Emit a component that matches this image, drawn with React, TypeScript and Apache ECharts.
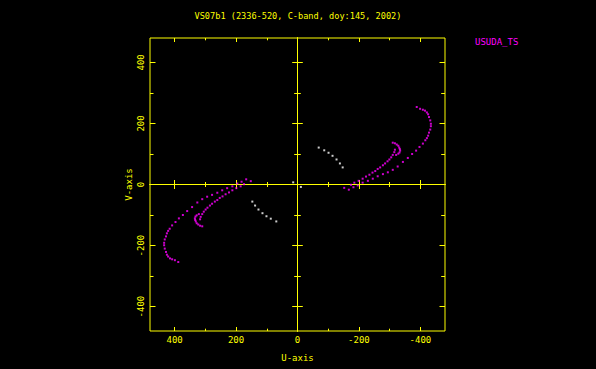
import React, { useEffect, useRef } from "react";
import * as echarts from "echarts";

const TITLE = "VS07b1 (2336-520, C-band, doy:145, 2002)";
const SERIES_NAME = "USUDA_TS";
const X_NAME = "U-axis";
const Y_NAME = "V-axis";
const MAJOR_TICKS = [-400, -200, 0, 200, 400];
const MINOR_TICKS = [-300, -100, 100, 300];
const AXIS_MIN = -480;
const AXIS_MAX = 480;

// USUDA_TS track (U, V)
const usudaU = [
  -388, -399, -408, -415, -421, -425, -428, -432, -434, -434, -432, -428, -425, -421, -416, -408, -397,
  -386, -373, -359, -343, -326, -310, -294, -278, -261, -245, -229, -212, -196, -182, -167, -152,
  -310, -317, -323, -328, -331, -333, -334, -332, -328, -321, -317, -315, -310, -305, -299, -293,
  -285, -278, -269, -261, -253, -244, -234, -223, -212, -199, -185, -174,
];
const usudaV = [
  254, 248, 245, 242, 236, 230, 221, 210, 199, 191, 180, 170, 160, 152, 145, 134, 123,
  111, 100, 87, 74, 59, 48, 40, 34, 27, 19, 12, 6, -3, -9, -17, -11,
  137, 135, 131, 127, 121, 116, 111, 105, 101, 97, 114, 106, 97, 89, 82, 76,
  69, 63, 56, 51, 44, 39, 32, 26, 19, 12, 6, -1,
];
// conjugate half of the USUDA_TS track
const usudaConjU = [
  388, 399, 408, 415, 421, 425, 428, 432, 434, 434, 432, 428, 425, 421, 416, 408, 397,
  386, 373, 359, 343, 326, 310, 294, 278, 261, 245, 229, 212, 196, 182, 167, 152,
  310, 317, 323, 328, 331, 333, 334, 332, 328, 321, 317, 315, 310, 305, 299, 293,
  285, 278, 269, 261, 253, 244, 234, 223, 212, 199, 185, 174,
];
const usudaConjV = [
  -254, -248, -245, -242, -236, -230, -221, -210, -199, -191, -180, -170, -160, -152, -145, -134, -123,
  -111, -100, -87, -74, -59, -48, -40, -34, -27, -19, -12, -6, 3, 9, 17, 11,
  -137, -135, -131, -127, -121, -116, -111, -105, -101, -97, -114, -106, -97, -89, -82, -76,
  -69, -63, -56, -51, -44, -39, -32, -26, -19, -12, -6, 1,
];
// other (white) baseline points
const otherU = [-69, -87, -101, -114, -127, -138, -147, -11, 69, 87, 101, 114, 127, 138, 147, 14];
const otherV = [121, 112, 104, 94, 82, 69, 56, -8, -121, -112, -104, -94, -82, -69, -56, 7];

const YELLOW = "#ffff00";
const MAGENTA = "#ff00ff";
const WHITE = "#ffffff";
const FONT = "'DejaVu Sans Mono', monospace";

function pairs(u: number[], v: number[]) {
  return u.map((x, i) => [x, v[i]]);
}

function tickAxis(
  dim: "x" | "y",
  position: string,
  values: number[],
  length: number,
  inside: boolean,
  zero: boolean,
  extra: any = {}
) {
  return {
    type: "value",
    gridIndex: 0,
    position,
    min: AXIS_MIN,
    max: AXIS_MAX,
    inverse: dim === "x",
    splitLine: { show: false },
    axisLine: zero
      ? { show: true, onZero: true, onZeroAxisIndex: 0, lineStyle: { color: YELLOW, width: 1 } }
      : { show: false, onZero: false },
    axisTick: {
      show: true,
      inside,
      length,
      customValues: values,
      lineStyle: { color: YELLOW, width: 1 },
    },
    axisLabel: { show: false },
    ...extra,
  };
}

export default function App() {
  const ref = useRef<HTMLDivElement>(null);
  useEffect(() => {
    if (!ref.current) return;
    const chart = echarts.init(ref.current, undefined, { renderer: "svg" });
    const labelStyle = { color: YELLOW, fontFamily: FONT, fontSize: 9 };
    const option: any = {
      animation: false,
      backgroundColor: "#000000",
      title: {
        text: TITLE,
        left: "center",
        top: 11.5,
        padding: 0,
        textStyle: { color: YELLOW, fontFamily: FONT, fontSize: 8.6, fontWeight: "normal" },
      },
      legend: {
        data: [SERIES_NAME],
        left: 470,
        top: 37,
        padding: 0,
        itemWidth: 0,
        itemHeight: 0,
        selectedMode: false,
        textStyle: { color: MAGENTA, fontFamily: FONT, fontSize: 9 },
      },
      grid: {
        left: 150,
        top: 38,
        width: 295,
        height: 293,
        show: true,
        borderColor: YELLOW,
        borderWidth: 1,
        backgroundColor: "transparent",
        containLabel: false,
        outerBoundsMode: "none",
      },
      xAxis: [
        tickAxis("x", "bottom", MAJOR_TICKS, 4, true, false, {
          axisLabel: { show: true, customValues: MAJOR_TICKS, margin: 4, ...labelStyle },
          name: X_NAME,
          nameLocation: "middle",
          nameGap: 22,
          nameTextStyle: labelStyle,
        }),
        tickAxis("x", "bottom", MINOR_TICKS, 2.3, true, false),
        tickAxis("x", "top", MAJOR_TICKS, 4, true, false),
        tickAxis("x", "top", MINOR_TICKS, 2.3, true, false),
        tickAxis("x", "bottom", MAJOR_TICKS, 4.5, true, true),
        tickAxis("x", "bottom", MAJOR_TICKS, 4.5, false, true),
        tickAxis("x", "bottom", MINOR_TICKS, 2.5, true, true),
        tickAxis("x", "bottom", MINOR_TICKS, 2.5, false, true),
      ],
      yAxis: [
        tickAxis("y", "left", MAJOR_TICKS, 5.5, true, false, {
          axisLabel: { show: true, customValues: MAJOR_TICKS, margin: 4.5, rotate: 90, ...labelStyle },
          name: Y_NAME,
          nameLocation: "middle",
          nameGap: 16.5,
          nameRotate: 90,
          nameTextStyle: labelStyle,
        }),
        tickAxis("y", "left", MINOR_TICKS, 3.5, true, false),
        tickAxis("y", "right", MAJOR_TICKS, 5.5, true, false),
        tickAxis("y", "right", MINOR_TICKS, 3.8, true, false),
        tickAxis("y", "left", MAJOR_TICKS, 5.3, true, true),
        tickAxis("y", "left", MAJOR_TICKS, 5.3, false, true),
        tickAxis("y", "left", MINOR_TICKS, 3.3, true, true),
        tickAxis("y", "left", MINOR_TICKS, 3.3, false, true),
      ],
      series: [
        {
          type: "scatter",
          name: SERIES_NAME,
          xAxisIndex: 0,
          yAxisIndex: 0,
          data: [...pairs(usudaU, usudaV), ...pairs(usudaConjU, usudaConjV)],
          symbol: "rect",
          symbolSize: 2,
          itemStyle: { color: MAGENTA },
          silent: true,
        },
        {
          type: "scatter",
          name: "other",
          xAxisIndex: 0,
          yAxisIndex: 0,
          data: pairs(otherU, otherV),
          symbol: "rect",
          symbolSize: 2,
          itemStyle: { color: WHITE },
          silent: true,
        },
      ],
    };
    chart.setOption(option);
    return () => chart.dispose();
  }, []);
  return (
    <div
      ref={ref}
      style={{ position: "absolute", left: 0, top: 0, width: 596, height: 369, background: "#000" }}
    />
  );
}
